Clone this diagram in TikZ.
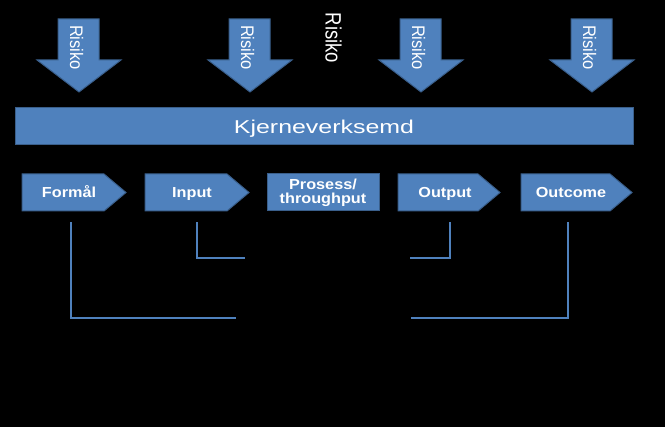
\documentclass[tikz,border=0pt]{standalone}
\usepackage{fontspec}
\setmainfont{Liberation Sans}
\usepackage{graphicx}
\usepackage{tikz}
\definecolor{riskblue}{HTML}{4F81BD}
\definecolor{riskedge}{HTML}{3A5F8B}
\tikzset{blueshape/.style={fill=riskblue, draw=riskedge, line width=1pt}, link/.style={draw=riskblue, line width=1.1pt}}
\tikzset{risktext/.style={text=white, rotate=-90, inner sep=0pt, font=\fontsize{16.5}{18}\selectfont}, chevtext/.style={text=white, anchor=base, inner sep=0pt, text depth=0pt, font=\bfseries\fontsize{14.5}{14}\selectfont}}

\begin{document}
\begin{tikzpicture}[x=1pt, y=-1pt]
\fill[black] (0,0) rectangle (665,427);
\useasboundingbox (0,0) rectangle (665,427);
 \foreach \x [count=\i] in {79,250,421,592} {
  \draw[blueshape] (\x-21,19) -- (\x+20,19) -- (\x+20,60) -- (\x+42,60) -- (\x,92) -- (\x-42,60) -- (\x-21,60) -- cycle;
  \node[risktext] (risk\i) at (\x-2.5,47.5) {\scalebox{1}[1.1]{Risiko}};
 }
 \node[risktext, font=\fontsize{18.5}{20}\selectfont] (risk) at (333.5,38) {\scalebox{1}[1.2]{Risiko}};
 \node[blueshape, minimum width=618pt, minimum height=37pt, inner sep=0pt, text=white, text depth=0pt, font=\fontsize{18.6}{20}\selectfont] (core) at (324,126.5) {\scalebox{1.34}[1]{Kjerneverksemd}};
 \foreach \x/\w/\tx/\nm/\txt in {22/82/69/form/Formål, 145/82/192/input/Input, 398/80/445/output/Output, 521/89/571/outcome/Outcome} {
  \draw[blueshape] (\x,174) -- ++(\w,0) -- ++(22,18.5) -- ++(-22,18.5) -- ++(-\w,0) -- cycle;
  \node[chevtext] (\nm) at (\tx,198) {\scalebox{1.12}[1]{\txt}};
 }
 \node[blueshape, minimum width=112pt, minimum height=37pt, inner sep=0pt, text=white, align=center, font=\bfseries\fontsize{14.5}{14}\selectfont] (proc) at (323,192.5) {\scalebox{1.12}[1]{Prosess/}\\\scalebox{1.12}[1]{throughput}};
 \coordinate (lowL) at (236,318);
 \coordinate (lowR) at (411,318);
 \coordinate (midL) at (245,258);
 \coordinate (midR) at (410,258);
 \draw[link] ([shift={(2,24)}]form.south) |- (lowL);
 \draw[link] ([shift={(5,24)}]input.south) |- (midL);
 \draw[link] ([shift={(5,24)}]output.south) |- (midR);
 \draw[link] ([shift={(-3,24)}]outcome.south) |- (lowR);
\end{tikzpicture}
\end{document}
